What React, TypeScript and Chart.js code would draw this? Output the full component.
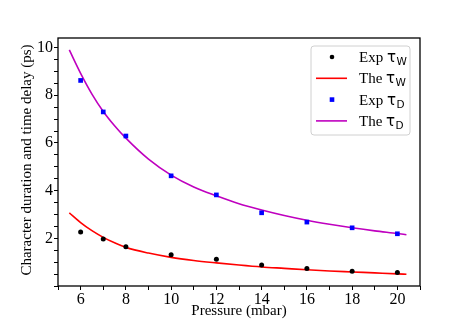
import React, { useEffect, useRef } from "react";
import { Chart, registerables } from "chart.js";

Chart.register(...registerables);

const pressure = [6, 7, 8, 10, 12, 14, 16, 18, 20];
const expTauW = [2.26, 1.97, 1.65, 1.31, 1.12, 0.88, 0.73, 0.62, 0.57];
const expTauD = [8.62, 7.3, 6.29, 4.62, 3.82, 3.07, 2.68, 2.44, 2.19];

const theoryPressure = [5.5, 6, 6.5, 7, 7.5, 8, 9, 10, 11, 12, 13, 14, 15, 16, 17, 18, 19, 20, 20.4];
const theTauW = [3.07, 2.66, 2.32, 2.04, 1.81, 1.62, 1.38, 1.2, 1.07, 0.97, 0.88, 0.8, 0.74, 0.68, 0.63, 0.59, 0.55, 0.51, 0.49];
const theTauD = [9.9, 8.92, 8.05, 7.32, 6.72, 6.2, 5.32, 4.65, 4.15, 3.78, 3.45, 3.19, 2.96, 2.76, 2.59, 2.44, 2.31, 2.2, 2.15];

const xTickLabels = [6, 8, 10, 12, 14, 16, 18, 20];
const yTickLabels = [2, 4, 6, 8, 10];

const legendEntries = [
  { prefix: "Exp ", sub: "W", kind: "circle", color: "#000000" },
  { prefix: "The ", sub: "W", kind: "line", color: "#ff0000" },
  { prefix: "Exp ", sub: "D", kind: "rect", color: "#0000ff" },
  { prefix: "The ", sub: "D", kind: "line", color: "#bf00bf" },
];

const SERIF = "'Liberation Serif', 'Times New Roman', serif";
const SANS = "'DejaVu Sans', sans-serif";

const zip = (xs: number[], ys: number[]) => xs.map((x, i) => ({ x, y: ys[i] }));

const framePlugin = {
  id: "frameAndLegend",
  afterDraw(chart: any) {
    const { ctx, chartArea } = chart;
    const { left, right, top, bottom } = chartArea;
    ctx.save();
    ctx.strokeStyle = "#000";
    ctx.lineWidth = 1.3;
    ctx.strokeRect(left, top, right - left, bottom - top);

    ctx.fillStyle = "#000";
    ctx.font = `15px ${SERIF}`;
    ctx.textAlign = "center";
    ctx.textBaseline = "middle";
    ctx.fillText("Pressure (mbar)", (left + right) / 2, bottom + 25);
    ctx.save();
    ctx.translate(left - 31, (top + bottom) / 2 - 2);
    ctx.rotate(-Math.PI / 2);
    ctx.fillText("Character duration and time delay (ps)", 0, 0);
    ctx.restore();

    const bw = 99;
    const bh = 89;
    const bx = right - 10 - bw;
    const by = top + 8;
    const r = 3;
    ctx.beginPath();
    ctx.moveTo(bx + r, by);
    ctx.lineTo(bx + bw - r, by);
    ctx.arcTo(bx + bw, by, bx + bw, by + r, r);
    ctx.lineTo(bx + bw, by + bh - r);
    ctx.arcTo(bx + bw, by + bh, bx + bw - r, by + bh, r);
    ctx.lineTo(bx + r, by + bh);
    ctx.arcTo(bx, by + bh, bx, by + bh - r, r);
    ctx.lineTo(bx, by + r);
    ctx.arcTo(bx, by, bx + r, by, r);
    ctx.closePath();
    ctx.fillStyle = "rgba(255,255,255,0.85)";
    ctx.fill();
    ctx.strokeStyle = "#d0d0d0";
    ctx.lineWidth = 1;
    ctx.stroke();

    legendEntries.forEach((e, i) => {
      const cy = by + 11 + i * 21.3;
      const mx = bx + 21;
      if (e.kind === "line") {
        ctx.strokeStyle = e.color;
        ctx.lineWidth = 1.6;
        ctx.beginPath();
        ctx.moveTo(bx + 5, cy);
        ctx.lineTo(bx + 36, cy);
        ctx.stroke();
      } else if (e.kind === "circle") {
        ctx.fillStyle = e.color;
        ctx.beginPath();
        ctx.arc(mx, cy, 2.3, 0, Math.PI * 2);
        ctx.fill();
      } else {
        ctx.fillStyle = e.color;
        ctx.fillRect(mx - 2.3, cy - 2.3, 4.6, 4.6);
      }
      ctx.fillStyle = "#000";
      ctx.textAlign = "left";
      ctx.textBaseline = "alphabetic";
      let tx = bx + 48;
      const base = cy + 5;
      ctx.font = `15px ${SERIF}`;
      ctx.fillText(e.prefix, tx, base);
      tx += ctx.measureText(e.prefix).width;
      ctx.font = `15px ${SANS}`;
      ctx.fillText("τ", tx, base);
      tx += ctx.measureText("τ").width + 0.5;
      ctx.font = `10.5px ${SANS}`;
      ctx.fillText(e.sub, tx, base + 3);
    });
    ctx.restore();
  },
};

export default function App() {
  const ref = useRef<HTMLCanvasElement | null>(null);

  useEffect(() => {
    if (!ref.current) return;
    const chart = new Chart(ref.current, {
      type: "scatter",
      data: {
        datasets: [
          {
            label: "Exp τW",
            data: zip(pressure, expTauW),
            showLine: false,
            pointStyle: "circle",
            pointRadius: 2.5,
            pointBackgroundColor: "#000000",
            pointBorderWidth: 0,
          },
          {
            label: "Exp τD",
            data: zip(pressure, expTauD),
            showLine: false,
            pointStyle: "rect",
            pointRadius: 3.3,
            pointBackgroundColor: "#0000ff",
            pointBorderWidth: 0,
          },
          {
            label: "The τW",
            data: zip(theoryPressure, theTauW),
            showLine: true,
            pointRadius: 0,
            borderColor: "#ff0000",
            borderWidth: 1.6,
            cubicInterpolationMode: "monotone",
          },
          {
            label: "The τD",
            data: zip(theoryPressure, theTauD),
            showLine: true,
            pointRadius: 0,
            borderColor: "#bf00bf",
            borderWidth: 1.6,
            cubicInterpolationMode: "monotone",
          },
        ],
      },
      options: {
        animation: false,
        responsive: true,
        maintainAspectRatio: false,
        layout: { padding: { left: 0, top: 38, right: 47, bottom: 0 } },
        plugins: {
          legend: { display: false },
          tooltip: { enabled: false },
        },
        scales: {
          x: {
            type: "linear",
            min: 5,
            max: 21,
            afterFit: (s: any) => {
              s.height = 35;
            },
            ticks: {
              stepSize: 1,
              includeBounds: false,
              autoSkip: false,
              maxRotation: 0,
              padding: 0,
              color: "#000",
              font: { family: SERIF, size: 16 },
              callback: (v: any) => (xTickLabels.includes(Number(v)) ? String(v) : ""),
            },
            grid: {
              display: true,
              drawOnChartArea: false,
              drawTicks: true,
              tickLength: 4,
              tickColor: "#000",
              tickWidth: 1,
            },
            border: { display: false },
          },
          y: {
            type: "linear",
            min: 0,
            max: 10.4,
            afterFit: (s: any) => {
              s.width = 58;
            },
            ticks: {
              stepSize: 0.5,
              includeBounds: false,
              autoSkip: false,
              padding: 1,
              color: "#000",
              font: { family: SERIF, size: 16 },
              callback: (v: any) => (yTickLabels.includes(Number(v)) ? String(v) : ""),
            },
            grid: {
              display: true,
              drawOnChartArea: false,
              drawTicks: true,
              tickLength: 4,
              tickColor: "#000",
              tickWidth: 1,
            },
            border: { display: false },
          },
        },
      },
      plugins: [framePlugin],
    } as any);
    return () => chart.destroy();
  }, []);

  return (
    <div style={{ position: "fixed", left: 0, top: 0, width: 467, height: 321, background: "#fff" }}>
      <canvas ref={ref} />
    </div>
  );
}
